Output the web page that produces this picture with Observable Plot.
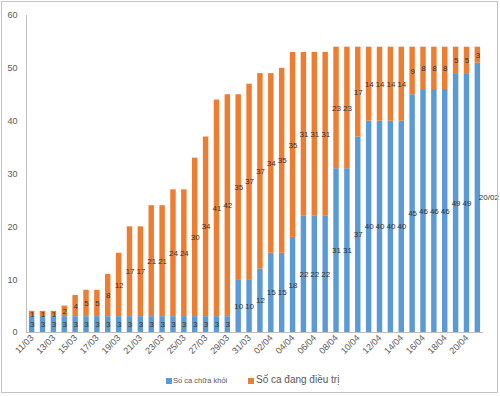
<!DOCTYPE html>
<html>
<head>
<meta charset="utf-8">
<script src="https://cdn.jsdelivr.net/npm/d3@7"></script>
<script src="https://cdn.jsdelivr.net/npm/@observablehq/plot@0.6"></script>
<style>
  body { margin: 0; background: #fff; }
  #wrap { position: relative; width: 500px; height: 396px; font-family: "Liberation Sans", Arial, sans-serif; }
  #border { position: absolute; left: 1px; top: 1px; width: 495px; height: 390px; border: 1px solid #c4c4c4; pointer-events: none; }
  #legend { position: absolute; top: 373px; left: 0; width: 500px; height: 16px; }
  .sw { position: absolute; width: 6px; height: 6px; top: 5px; }
  .lt { position: absolute; color: #595959; white-space: nowrap; }
</style>
</head>
<body>
<div id="wrap">
  <div id="chart"></div>
  <div id="legend"></div>
  <div id="border"></div>
</div>
<script>
const dates = ["11/03","12/03","13/03","14/03","15/03","16/03","17/03","18/03","19/03","20/03",
  "21/03","22/03","23/03","24/03","25/03","26/03","27/03","28/03","29/03","30/03","31/03",
  "01/04","02/04","03/04","04/04","05/04","06/04","07/04","08/04","09/04","10/04",
  "11/04","12/04","13/04","14/04","15/04","16/04","17/04","18/04","19/04","20/04","21/04"];
const recovered = [3,3,3,3,3,3,3,3,3,3,3,3,3,3,3,3,3,3,3,
  10,10,12,15,15,18,22,22,22,31,31,37,40,40,40,40,45,46,46,46,49,49,51];
const treated = [1,1,1,2,4,5,5,8,12,17,17,21,21,24,24,30,34,41,42,
  35,37,37,34,35,35,31,31,31,23,23,17,14,14,14,14,9,8,8,8,5,5,3];
const lastRecoveredLabel = "20/02";
const seriesNames = ["Số ca chữa khỏi", "Số ca đang điều trị"];
const seriesColors = ["#5b9bd5", "#ed7d31"];
const yTicks = [0,10,20,30,40,50,60];
const xTicks = dates.filter((d, i) => i % 2 === 0);

const rows = [];
dates.forEach((d, i) => rows.push({date: d, series: seriesNames[0], value: recovered[i],
  label: i === dates.length - 1 ? "" : String(recovered[i])}));
dates.forEach((d, i) => rows.push({date: d, series: seriesNames[1], value: treated[i], label: String(treated[i])}));
const lastRow = [{date: dates[dates.length - 1], series: seriesNames[0], value: recovered[dates.length - 1], label: lastRecoveredLabel}];

const chart = Plot.plot({
  width: 500,
  height: 370,
  marginLeft: 26,
  marginRight: 17,
  marginTop: 15,
  marginBottom: 38,
  style: {fontFamily: "Liberation Sans, Arial, sans-serif", background: "transparent"},
  x: {domain: dates, paddingInner: 0.5, paddingOuter: 0.27, label: null},
  y: {domain: [0, 60], label: null},
  color: {domain: seriesNames, range: seriesColors},
  marks: [
    Plot.barY(rows, {x: "date", y: "value", fill: "series", z: "series"}),
    Plot.text(rows, Plot.stackY({x: "date", y: "value", z: "series", text: "label", fontSize: 8, fill: "#333"})),
    Plot.text(lastRow, Plot.stackY({x: "date", y: "value", z: "series", text: "label", fontSize: 8, fill: "#333", dx: 11})),
    Plot.ruleY([0], {stroke: "#bfbfbf"}),
    Plot.frame({anchor: "left", stroke: "#bfbfbf"}),
    Plot.axisY({ticks: yTicks, tickSize: 0, tickPadding: 9, fontSize: 9, fill: "#595959", label: null}),
    Plot.axisX({ticks: xTicks, tickSize: 0, tickPadding: 4, tickRotate: -45, fontSize: 9, fill: "#595959", label: null})
  ]
});
document.getElementById("chart").appendChild(chart);

const legend = document.getElementById("legend");
const items = [
  {x: 166, tx: 173, size: 7.5, top: 3},
  {x: 248, tx: 256, size: 10, top: 1}
];
seriesNames.forEach((name, i) => {
  const sw = document.createElement("div");
  sw.className = "sw";
  sw.style.left = items[i].x + "px";
  sw.style.background = seriesColors[i];
  legend.appendChild(sw);
  const t = document.createElement("div");
  t.className = "lt";
  t.style.left = items[i].tx + "px";
  t.style.top = items[i].top + "px";
  t.style.fontSize = items[i].size + "px";
  t.textContent = name;
  legend.appendChild(t);
});
</script>
</body>
</html>
